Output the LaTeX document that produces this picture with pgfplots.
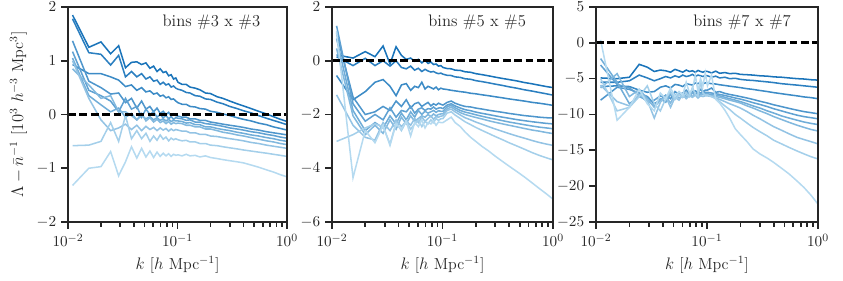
\documentclass[border=0pt]{standalone}
\usepackage{pgfplots}
\usepackage{pgfplotstable}
\pgfplotsset{compat=1.18}

\definecolor{blA}{RGB}{181,218,240}
\definecolor{blB}{RGB}{164,207,234}
\definecolor{blC}{RGB}{147,195,228}
\definecolor{blD}{RGB}{129,184,222}
\definecolor{blE}{RGB}{112,173,216}
\definecolor{blF}{RGB}{95,161,210}
\definecolor{blG}{RGB}{78,150,204}
\definecolor{blH}{RGB}{60,139,198}
\definecolor{blI}{RGB}{43,127,192}
\definecolor{blJ}{RGB}{26,116,186}
\definecolor{spine}{RGB}{38,38,38}

\pgfplotstableread{
k c1 c2 c3 c4 c5 c6 c7 c8 c9 c10
0.011 -1.32 -0.58 1.00 0.85 1.05 1.17 1.37 0.93 1.78 1.85
0.0155 -1.00 -0.57 0.30 0.55 0.35 0.45 0.62 0.76 1.15 1.25
0.020 -0.97 -0.50 -0.10 0.30 0.18 0.35 0.50 0.76 1.12 1.35
0.0245 -0.69 -0.15 -0.30 0.35 0.05 0.25 0.38 0.70 0.92 1.13
0.029 -1.14 -0.50 -0.25 0.05 0.12 0.05 0.40 0.64 1.10 1.28
0.0335 -0.88 -0.02 -0.18 0.05 -0.05 0.30 0.22 0.52 0.70 0.87
0.038 -0.60 -0.45 -0.28 -0.02 0.02 0.10 0.30 0.55 0.80 0.97
0.0425 -0.81 -0.30 -0.20 -0.10 -0.10 0.15 0.12 0.45 0.70 0.98
0.047 -0.63 -0.45 -0.30 0.02 -0.02 -0.05 0.25 0.50 0.76 0.93
0.0515 -0.79 -0.35 -0.22 -0.12 -0.08 0.10 0.10 0.42 0.66 0.96
0.056 -0.68 -0.50 -0.28 -0.06 -0.04 0.00 0.15 0.44 0.70 0.86
0.0605 -0.80 -0.40 -0.24 -0.14 -0.10 0.05 0.05 0.38 0.62 0.90
0.065 -0.70 -0.48 -0.30 -0.09 -0.06 -0.05 0.12 0.40 0.64 0.80
0.0695 -0.78 -0.38 -0.25 -0.15 -0.11 0.00 0.02 0.34 0.56 0.85
0.074 -0.72 -0.46 -0.29 -0.12 -0.08 -0.06 0.06 0.36 0.60 0.78
0.0785 -0.77 -0.42 -0.26 -0.17 -0.12 -0.02 0.00 0.31 0.55 0.80
0.083 -0.73 -0.49 -0.31 -0.13 -0.09 -0.08 0.04 0.33 0.57 0.72
0.0875 -0.78 -0.44 -0.27 -0.18 -0.13 -0.04 -0.03 0.28 0.51 0.74
0.092 -0.74 -0.47 -0.30 -0.15 -0.11 -0.09 0.01 0.29 0.53 0.66
0.0965 -0.76 -0.45 -0.28 -0.17 -0.12 -0.06 -0.02 0.25 0.49 0.68
0.101 -0.75 -0.47 -0.29 -0.16 -0.12 -0.07 -0.03 0.22 0.47 0.60
0.11 -0.77 -0.49 -0.31 -0.17 -0.13 -0.08 -0.05 0.19 0.45 0.56
0.12 -0.74 -0.48 -0.31 -0.20 -0.16 -0.11 -0.05 0.19 0.41 0.56
0.13 -0.77 -0.51 -0.34 -0.20 -0.15 -0.10 -0.08 0.15 0.40 0.51
0.145 -0.76 -0.51 -0.34 -0.23 -0.19 -0.14 -0.08 0.14 0.35 0.49
0.16 -0.79 -0.54 -0.37 -0.23 -0.19 -0.14 -0.11 0.11 0.34 0.46
0.18 -0.77 -0.54 -0.37 -0.27 -0.23 -0.17 -0.11 0.10 0.29 0.40
0.2 -0.80 -0.57 -0.40 -0.27 -0.23 -0.18 -0.14 0.06 0.28 0.39
0.23 -0.82 -0.58 -0.41 -0.30 -0.26 -0.20 -0.16 0.04 0.23 0.33
0.26 -0.84 -0.60 -0.43 -0.33 -0.28 -0.22 -0.18 0.01 0.20 0.30
0.3 -0.86 -0.62 -0.45 -0.35 -0.30 -0.25 -0.20 -0.02 0.15 0.25
0.35 -0.88 -0.64 -0.47 -0.38 -0.33 -0.27 -0.22 -0.06 0.11 0.20
0.4 -0.90 -0.66 -0.49 -0.40 -0.35 -0.29 -0.24 -0.09 0.07 0.16
0.47 -0.94 -0.68 -0.52 -0.43 -0.38 -0.32 -0.27 -0.12 0.03 0.11
0.55 -0.98 -0.70 -0.54 -0.46 -0.40 -0.34 -0.29 -0.16 -0.02 0.06
0.65 -1.03 -0.72 -0.57 -0.49 -0.43 -0.37 -0.32 -0.19 -0.07 0.01
0.75 -1.07 -0.74 -0.59 -0.51 -0.45 -0.39 -0.34 -0.23 -0.11 -0.04
0.87 -1.12 -0.76 -0.61 -0.54 -0.48 -0.42 -0.36 -0.26 -0.15 -0.09
1.0 -1.16 -0.78 -0.63 -0.56 -0.50 -0.44 -0.38 -0.29 -0.19 -0.13
}\tabA

\pgfplotstableread{
k c1 c2 c3 c4 c5 c6 c7 c8 c9 c10
0.011 1.10 -3.00 -1.27 0.46 0.83 1.30 1.02 -0.55 0.15 0.22
0.0155 -4.35 -2.75 -2.40 -2.05 -1.85 -1.60 -1.35 -1.45 -0.18 0.10
0.020 -2.60 -2.50 -2.85 -2.75 -2.60 -2.25 -2.00 -1.15 0.09 0.34
0.0245 -3.05 -2.35 -2.95 -2.40 -2.30 -2.00 -1.90 -0.80 -0.18 0.15
0.029 -2.40 -2.45 -2.30 -2.70 -2.50 -2.20 -1.70 -0.70 0.00 0.55
0.0335 -3.15 -3.10 -2.60 -2.20 -2.05 -1.75 -1.85 -0.95 -0.20 -0.12
0.038 -2.35 -2.30 -2.20 -2.55 -2.35 -2.10 -1.50 -1.30 0.00 0.52
0.0425 -2.55 -2.60 -2.45 -2.10 -1.95 -1.85 -1.70 -0.90 -0.25 0.20
0.047 -2.25 -2.25 -2.25 -2.35 -2.20 -1.90 -1.45 -0.85 -0.30 0.05
0.0515 -2.80 -2.55 -2.40 -2.05 -1.90 -1.70 -1.75 -1.10 -0.20 0.10
0.056 -2.30 -2.35 -2.15 -2.25 -2.10 -1.95 -1.60 -0.95 -0.35 -0.02
0.0605 -2.45 -2.20 -2.30 -2.15 -1.85 -1.80 -1.55 -1.00 -0.28 0.05
0.065 -2.20 -2.45 -2.10 -2.05 -2.00 -1.75 -1.70 -0.80 -0.40 -0.08
0.0695 -2.50 -2.25 -2.25 -2.10 -1.88 -1.85 -1.62 -1.05 -0.32 0.02
0.074 -2.30 -2.35 -2.15 -2.00 -1.95 -1.78 -1.55 -0.95 -0.38 -0.10
0.0785 -2.35 -2.20 -2.05 -2.08 -1.90 -1.80 -1.68 -1.00 -0.42 -0.05
0.083 -2.25 -2.30 -2.18 -1.98 -1.85 -1.72 -1.60 -1.05 -0.40 -0.14
0.0875 -2.40 -2.15 -2.08 -2.05 -1.92 -1.80 -1.65 -0.98 -0.45 -0.12
0.092 -2.28 -2.22 -2.10 -2.00 -1.86 -1.76 -1.58 -1.08 -0.48 -0.20
0.0965 -2.30 -2.16 -2.06 -1.98 -1.88 -1.75 -1.62 -1.02 -0.46 -0.18
0.101 -2.30 -2.15 -2.05 -1.98 -1.88 -1.78 -1.65 -1.05 -0.50 -0.25
0.11 -2.20 -1.95 -1.85 -1.80 -1.72 -1.65 -1.55 -1.07 -0.54 -0.29
0.12 -2.10 -1.90 -1.80 -1.72 -1.65 -1.60 -1.50 -1.10 -0.55 -0.30
0.13 -2.30 -2.02 -1.90 -1.82 -1.75 -1.68 -1.58 -1.12 -0.60 -0.35
0.145 -2.45 -2.15 -2.02 -1.93 -1.85 -1.76 -1.65 -1.15 -0.62 -0.36
0.16 -2.65 -2.27 -2.12 -2.00 -1.91 -1.82 -1.70 -1.17 -0.67 -0.41
0.18 -2.85 -2.38 -2.20 -2.06 -1.96 -1.86 -1.72 -1.21 -0.69 -0.43
0.2 -3.00 -2.48 -2.28 -2.11 -2.01 -1.91 -1.76 -1.23 -0.74 -0.48
0.23 -3.20 -2.60 -2.37 -2.17 -2.07 -1.96 -1.80 -1.27 -0.78 -0.52
0.26 -3.35 -2.70 -2.45 -2.23 -2.12 -2.00 -1.84 -1.30 -0.82 -0.56
0.3 -3.55 -2.82 -2.54 -2.29 -2.17 -2.05 -1.88 -1.34 -0.87 -0.61
0.35 -3.75 -2.94 -2.63 -2.35 -2.23 -2.10 -1.92 -1.38 -0.92 -0.66
0.4 -3.92 -3.05 -2.71 -2.40 -2.28 -2.14 -1.96 -1.42 -0.97 -0.70
0.47 -4.12 -3.17 -2.80 -2.46 -2.33 -2.19 -2.00 -1.46 -1.02 -0.75
0.55 -4.32 -3.29 -2.88 -2.52 -2.38 -2.23 -2.04 -1.50 -1.08 -0.81
0.65 -4.55 -3.42 -2.97 -2.58 -2.43 -2.27 -2.07 -1.55 -1.13 -0.86
0.75 -4.75 -3.52 -3.04 -2.62 -2.47 -2.30 -2.10 -1.58 -1.18 -0.91
0.87 -4.95 -3.61 -3.10 -2.67 -2.50 -2.33 -2.12 -1.62 -1.23 -0.96
1.0 -5.15 -3.69 -3.15 -2.71 -2.53 -2.35 -2.13 -1.66 -1.28 -1.00
}\tabB

\pgfplotstableread{
k c1 c2 c3 c4 c5 c6 c7 c8 c9 c10
0.011 0.4 -5.0 -5.9 -6.3 -2.2 -3.1 -8.0 -6.1 -5.5 -4.9
0.0155 -10.8 -9.5 -8.2 -4.3 -5.5 -5.8 -6.2 -6.0 -5.5 -5.0
0.020 -9.0 -9.0 -8.8 -7.5 -8.5 -6.3 -6.5 -6.1 -5.3 -4.8
0.0245 -6.5 -7.5 -7.2 -6.5 -7.5 -7.3 -7.0 -6.6 -4.5 -3.0
0.029 -8.5 -6.0 -8.0 -7.8 -8.0 -8.2 -7.5 -6.9 -4.9 -3.4
0.0335 -9.5 -8.5 -10.5 -9.0 -8.8 -8.0 -8.5 -6.8 -5.3 -4.0
0.038 -7.0 -9.5 -8.3 -8.0 -7.8 -7.4 -8.0 -6.2 -5.0 -3.8
0.0425 -7.8 -7.8 -7.5 -7.5 -8.3 -7.7 -7.3 -6.0 -4.7 -3.9
0.047 -6.3 -6.8 -9.0 -8.4 -7.2 -7.0 -7.8 -6.3 -4.9 -4.1
0.0515 -7.5 -7.9 -7.6 -7.2 -7.8 -7.6 -6.8 -5.8 -4.6 -3.7
0.056 -6.8 -7.2 -8.0 -7.7 -7.0 -6.9 -7.2 -5.9 -4.8 -3.9
0.0605 -7.3 -7.6 -7.2 -7.3 -7.6 -7.3 -7.0 -6.1 -4.5 -4.1
0.065 -5.5 -7.0 -7.8 -7.6 -7.2 -7.0 -6.6 -5.7 -4.7 -3.8
0.0695 -7.0 -7.5 -7.4 -7.1 -7.4 -7.2 -7.1 -5.8 -4.6 -4.0
0.074 -6.5 -6.2 -7.6 -7.5 -7.0 -6.8 -6.8 -5.9 -4.4 -3.9
0.0785 -4.5 -7.2 -7.3 -7.2 -7.3 -7.1 -6.7 -5.6 -4.7 -4.1
0.083 -6.8 -7.4 -7.7 -7.4 -7.1 -6.9 -6.9 -5.7 -4.5 -3.85
0.0875 -5.0 -5.5 -7.4 -7.3 -7.2 -7.0 -6.5 -5.5 -4.6 -4.0
0.092 -6.0 -7.0 -7.5 -7.2 -7.0 -6.8 -6.8 -5.7 -4.7 -4.1
0.0965 -4.2 -7.3 -7.4 -7.3 -7.1 -6.9 -6.6 -5.6 -4.55 -3.95
0.101 -6.0 -7.3 -7.4 -7.3 -7.1 -6.9 -6.6 -5.6 -4.6 -4.0
0.11 -4.5 -7.5 -7.5 -7.4 -7.2 -7.0 -6.3 -5.7 -4.8 -4.2
0.12 -7.9 -7.8 -7.7 -7.5 -7.3 -7.1 -6.9 -5.75 -4.65 -3.95
0.13 -8.4 -8.2 -7.9 -7.6 -7.4 -7.2 -6.8 -5.85 -4.9 -4.25
0.145 -9.4 -8.8 -8.2 -7.8 -7.6 -7.35 -7.05 -5.95 -4.8 -4.15
0.16 -10.5 -9.3 -8.5 -8.0 -7.8 -7.5 -7.2 -6.05 -5.0 -4.3
0.18 -12.0 -10.0 -8.8 -8.2 -8.0 -7.7 -7.35 -6.15 -4.95 -4.25
0.2 -12.8 -10.5 -9.1 -8.4 -8.2 -7.85 -7.5 -6.25 -5.1 -4.4
0.23 -13.8 -11.2 -9.6 -8.8 -8.5 -8.1 -7.7 -6.4 -5.2 -4.45
0.26 -14.8 -11.8 -10.1 -9.1 -8.8 -8.35 -7.9 -6.5 -5.25 -4.5
0.3 -15.5 -12.4 -10.6 -9.5 -9.1 -8.6 -8.15 -6.65 -5.35 -4.6
0.35 -16.1 -13.0 -11.2 -9.9 -9.5 -8.9 -8.4 -6.8 -5.45 -4.65
0.4 -16.7 -13.6 -11.7 -10.3 -9.8 -9.2 -8.65 -6.95 -5.55 -4.75
0.47 -17.5 -14.1 -12.2 -10.7 -10.2 -9.5 -8.9 -7.1 -5.7 -4.8
0.55 -18.3 -14.6 -12.7 -11.1 -10.5 -9.8 -9.15 -7.25 -5.8 -4.9
0.65 -19.3 -15.1 -13.2 -11.5 -10.8 -10.1 -9.4 -7.4 -5.9 -5.0
0.75 -20.2 -15.5 -13.5 -11.8 -11.05 -10.3 -9.6 -7.55 -6.0 -5.05
0.87 -21.3 -15.9 -13.8 -12.1 -11.25 -10.45 -9.75 -7.65 -6.1 -5.15
1.0 -22.5 -16.2 -14.1 -12.3 -11.4 -10.6 -9.9 -7.8 -6.2 -5.2
}\tabC

\pgfplotsset{
  every axis/.append style={
    scale only axis, height=154.8pt,
    xmode=log, xmin=0.01, xmax=1,
    axis on top,
    axis line style={spine, line width=1.7pt},
    major tick length=5pt, minor tick length=3.3pt,
    tick align=outside, xtick pos=left, ytick pos=left,
    xtick={0.01,0.1,1},
    minor xtick={0.02,0.03,0.04,0.05,0.06,0.07,0.08,0.09,0.2,0.3,0.4,0.5,0.6,0.7,0.8,0.9},
    xlabel={$k$ [$h$ Mpc$^{-1}$]},
    tick label style={font=\fontsize{11}{13}\selectfont, text=spine},
    label style={font=\fontsize{11.5}{13}\selectfont, text=spine},
    every tick/.append style={spine, line width=1.2pt},
    no markers,
    every axis plot/.append style={line width=1.1pt},
  },
}

\newcommand{\curves}[1]{%
  \addplot[blJ] table[x=k,y=c10]{#1};
  \addplot[blI] table[x=k,y=c9]{#1};
  \addplot[blH] table[x=k,y=c8]{#1};
  \addplot[blG] table[x=k,y=c7]{#1};
  \addplot[blF] table[x=k,y=c6]{#1};
  \addplot[blE] table[x=k,y=c5]{#1};
  \addplot[blD] table[x=k,y=c4]{#1};
  \addplot[blC] table[x=k,y=c3]{#1};
  \addplot[blB] table[x=k,y=c2]{#1};
  \addplot[blA] table[x=k,y=c1]{#1};
  \addplot[black, line width=2pt, dash pattern=on 5.6pt off 2.6pt] coordinates {(0.01,0) (1,0)};
}

\begin{document}
\begin{tikzpicture}
\useasboundingbox (-48.96pt,-42.48pt) rectangle (558pt,159.84pt);

\begin{axis}[at={(0pt,0pt)}, anchor=south west, width=157.7pt,
  ymin=-2, ymax=2, ytick={-2,-1,0,1,2},
  ylabel={$\Lambda-\bar{n}^{-1}$ [$10^3$ $h^{-3}$ Mpc$^3$]}]
\curves{\tabA}
\node[anchor=east, font=\fontsize{12}{14}\selectfont, text=spine] at (rel axis cs:0.9,0.93) {bins \#3 x \#3};
\end{axis}

\begin{axis}[at={(190.08pt,0pt)}, anchor=south west, width=159.1pt,
  ymin=-6, ymax=2, ytick={-6,-4,-2,0,2}]
\curves{\tabB}
\node[anchor=east, font=\fontsize{12}{14}\selectfont, text=spine] at (rel axis cs:0.9,0.93) {bins \#5 x \#5};
\end{axis}

\begin{axis}[at={(380.16pt,0pt)}, anchor=south west, width=159.8pt,
  ymin=-25, ymax=5, ytick={-25,-20,-15,-10,-5,0,5}]
\curves{\tabC}
\node[anchor=east, font=\fontsize{12}{14}\selectfont, text=spine] at (rel axis cs:0.9,0.93) {bins \#7 x \#7};
\end{axis}
\end{tikzpicture}
\end{document}
